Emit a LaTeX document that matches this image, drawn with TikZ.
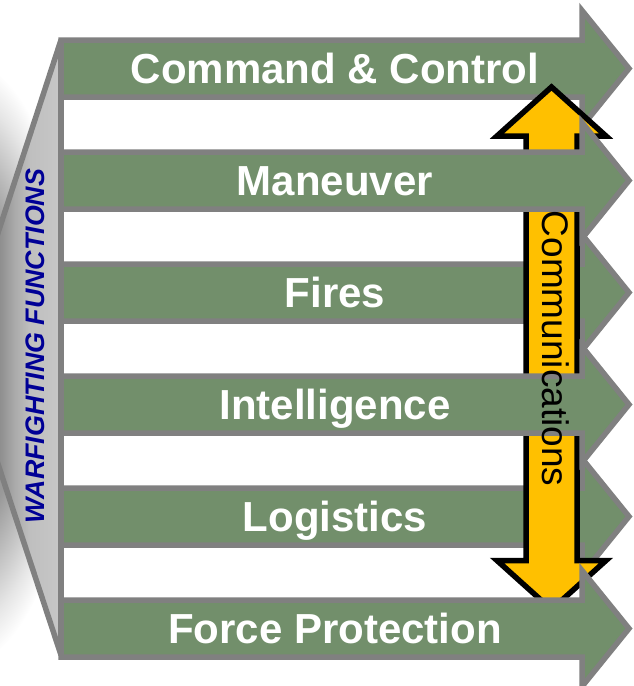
\documentclass[tikz,border=0pt]{standalone}
\usepackage{fontspec}
\setmainfont{Liberation Sans}
\definecolor{wfgreen}{RGB}{114,143,107}
\definecolor{wfedge}{RGB}{128,128,128}
\definecolor{commgold}{RGB}{255,192,0}
\definecolor{wfnavy}{RGB}{0,0,150}
\pgfdeclareradialshading{shadowblob}{\pgfpoint{0bp}{0bp}}{gray(0bp)=(0.5); gray(13.75bp)=(0.6); gray(17.5bp)=(0.74); gray(21.75bp)=(0.9); gray(25bp)=(1); gray(50bp)=(1)}
\pgfdeclarehorizontalshading{facesh}{100bp}{gray(0bp)=(0.52); gray(25bp)=(0.52); gray(28.8bp)=(0.56); gray(40.2bp)=(0.67); gray(51.5bp)=(0.75); gray(75bp)=(0.78); gray(100bp)=(0.78)}
\tikzset{
  wfarrow/.style={draw=wfedge, fill=wfgreen, line width=5.5pt, line join=miter},
  wflabel/.style={text=white, font=\fontsize{42}{48}\selectfont\bfseries, anchor=base, inner sep=0pt},
  commarrow/.style={draw=black, fill=commgold, line width=5.5pt, line join=miter},
  commlabel/.style={text=black, font=\fontsize{37}{44}\selectfont, anchor=base, inner sep=0pt, rotate=-90},
  paneledge/.style={draw=wfedge, line width=5.5pt, line cap=butt},
  panellabel/.style={text=wfnavy, font=\fontsize{26.8}{30}\selectfont\bfseries\itshape, anchor=base, inner sep=0pt, rotate=90}
}
\newcommand{\wfarrowpath}[3]{%
  \draw[wfarrow] (61,{#1-28.5}) -- (582,{#1-28.5}) -- (582,{#1-58}) -- (629,#1) -- (582,{#1+58}) -- (582,{#1+28.5}) -- (61,{#1+28.5}) -- cycle;
  \node[wflabel] (#2) at (335,{#1+15}) {#3};}
\begin{document}
\begin{tikzpicture}[x=1pt,y=-1pt]
\useasboundingbox (0,0) rectangle (634,686);
% soft shadow left of the panel
\begin{scope}
  \clip (-20,0) rectangle (61,686);
  \shade[shading=shadowblob] (-40,362) ellipse [x radius=120, y radius=305];
\end{scope}
% panel face
\shade[shading=facesh] (61,40) -- (-5,242) -- (-5,455) -- (61,655) -- cycle;
\draw[paneledge] (-5,242) -- (61,40);
\draw[paneledge] (-5,455) -- (61,655);
\draw[paneledge] (61,40) -- (61,655);
\node[panellabel] (wf) at (45,346) {WARFIGHTING FUNCTIONS};
% arrows below the communications arrow
\wfarrowpath{68.5}{cc}{Command \& Control}
\wfarrowpath{292.5}{fires}{Fires}
\wfarrowpath{516.5}{log}{Logistics}
% communications double arrow
\draw[commarrow] (551.5,87) -- (606,136) -- (577,136) -- (577,560.5) -- (606,560.5) -- (551.5,609.5) -- (497,560.5) -- (526,560.5) -- (526,136) -- (497,136) -- cycle;
% arrows above the communications arrow
\wfarrowpath{180.5}{man}{Maneuver}
\wfarrowpath{404.5}{intel}{Intelligence}
\wfarrowpath{628.5}{fp}{Force Protection}
\node[commlabel] (comm) at (542,348.5) {Communications};
\end{tikzpicture}
\end{document}
